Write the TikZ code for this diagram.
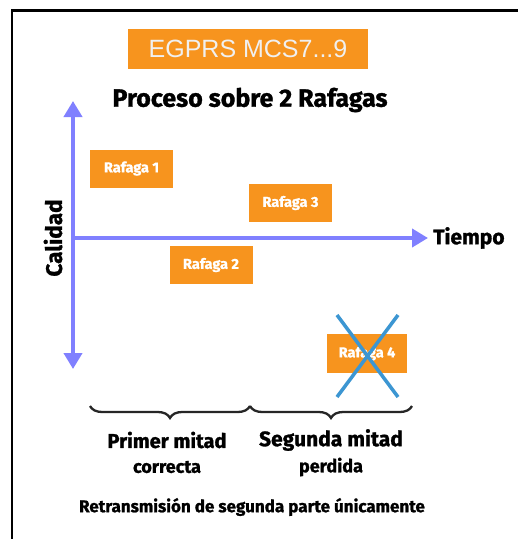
\documentclass[tikz,border=0pt]{standalone}
\usepackage{fontspec}
\setmainfont{Fira Sans}[BoldFeatures={FakeBold=1.2}]
\setsansfont{Liberation Sans}
\usetikzlibrary{arrows.meta,decorations.pathreplacing}
\definecolor{burst}{RGB}{247,148,30}
\definecolor{axiscol}{RGB}{128,128,255}
\definecolor{crosscol}{RGB}{60,150,210}
\tikzset{
  rafbox/.style={fill=burst, text=white, font=\bfseries\fontsize{14.5}{14.5}\selectfont, minimum width=83pt, minimum height=38pt, inner sep=0pt},
  axisline/.style={draw=axiscol, line width=4.5pt, -{Triangle[width=18pt,length=16pt]}},
  crossline/.style={draw=crosscol, line width=3.5pt},
  bracestyle/.style={draw=black!85, line width=2.3pt, decorate, decoration={brace, mirror, amplitude=12pt}},
  lbl/.style={font=\bfseries\fontsize{20}{20}\selectfont, inner sep=0pt},
  sublbl/.style={font=\bfseries\fontsize{18}{18}\selectfont, inner sep=0pt}
}
\begin{document}
\begin{tikzpicture}[x=1pt,y=-1pt]
\useasboundingbox (0,0) rectangle (518,539);
\fill[white] (0,0) rectangle (518,539);
% frame
\draw[line width=2pt] (12,539) -- (12,9.5);
\draw[line width=3pt] (11,10) -- (518,10);
% title box
\node[fill=burst, minimum width=240pt, minimum height=40pt, inner sep=0pt, text=white!94!black, font=\sffamily\fontsize{25}{25}\selectfont] (egprs) at (248,49) {EGPRS MCS7...9};
\node[font=\bfseries\fontsize{25}{25}\selectfont, inner sep=0pt] (proc) at (250,100) {Proceso sobre 2 Rafagas};
% axes
\coordinate (org) at (73,238);
\coordinate (ytop) at (73,101);
\coordinate (ybot) at (73,369);
\coordinate (xend) at (428,238);
\draw[axisline] (org) -- (ytop);
\draw[axisline] (org) -- (ybot);
\draw[axisline] (org) -- (xend);
\node[lbl, anchor=west, font=\bfseries\fontsize{21}{21}\selectfont] (tiempo) at (433,238) {Tiempo};
\node[lbl, rotate=90, font=\bfseries\fontsize{22.5}{22.5}\selectfont] (calidad) at (53,238) {Calidad};
% bursts
\node[rafbox] (r1) at (131.5,168.5) {Rafaga 1};
\node[rafbox] (r3) at (290.5,203) {Rafaga 3};
\node[rafbox] (r2) at (211,265) {Rafaga 2};
\node[rafbox, minimum width=80pt, minimum height=39pt] (r4) at (367,353.5) {Rafaga 4};
% cross
\coordinate (c1) at (337,315);
\coordinate (c2) at (398,397);
\coordinate (c3) at (398,315);
\coordinate (c4) at (337,397);
\draw[crossline] (c1) -- (c2);
\draw[crossline] (c3) -- (c4);
% braces
\coordinate (b1) at (90,406);
\coordinate (b2) at (250,406);
\coordinate (b3) at (412,406);
\draw[bracestyle] (b1) -- (b2);
\draw[bracestyle] (b2) -- (b3);
% labels
\node[lbl] (pm) at (167,440) {Primer mitad};
\node[sublbl] (corr) at (167,467) {correcta};
\node[lbl, font=\bfseries\fontsize{21}{21}\selectfont] (sm) at (331,440) {Segunda mitad};
\node[sublbl] (perd) at (331,467) {perdida};
\node[font=\bfseries\fontsize{17}{17}\selectfont, inner sep=0pt] (retx) at (252,507) {Retransmisión de segunda parte únicamente};
\end{tikzpicture}
\end{document}
